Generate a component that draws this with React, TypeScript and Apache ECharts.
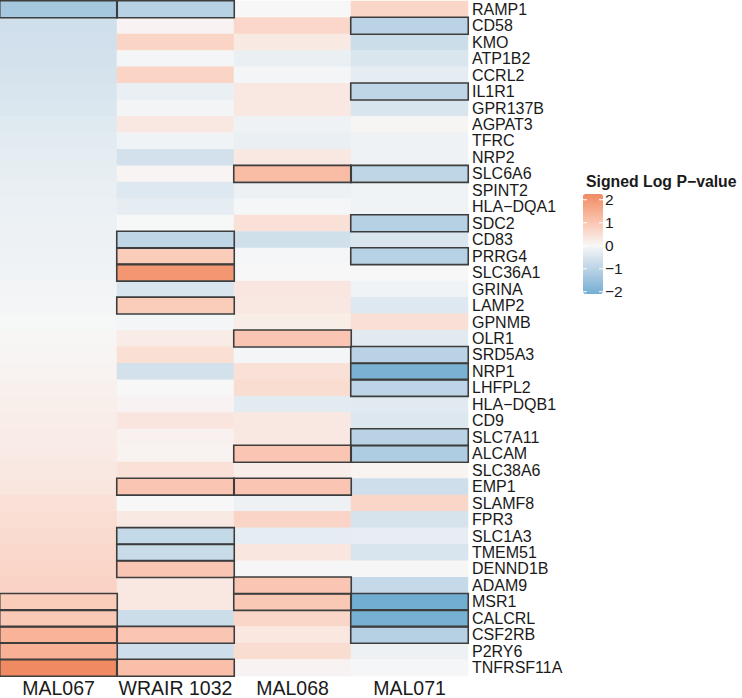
import React, { useEffect, useRef } from "react";
import * as echarts from "echarts";

const genes = [
  "RAMP1", "CD58", "KMO", "ATP1B2", "CCRL2", "IL1R1", "GPR137B", "AGPAT3", "TFRC", "NRP2",
  "SLC6A6", "SPINT2", "HLA\u2212DQA1", "SDC2", "CD83", "PRRG4", "SLC36A1", "GRINA", "LAMP2", "GPNMB",
  "OLR1", "SRD5A3", "NRP1", "LHFPL2", "HLA\u2212DQB1", "CD9", "SLC7A11", "ALCAM", "SLC38A6", "EMP1",
  "SLAMF8", "FPR3", "SLC1A3", "TMEM51", "DENND1B", "ADAM9", "MSR1", "CALCRL", "CSF2RB", "P2RY6",
  "TNFRSF11A",
];

const samples = ["MAL067", "WRAIR 1032", "MAL068", "MAL071"];

const mal067 = [
  -1.33, -0.67, -0.64, -0.6, -0.56, -0.52, -0.46, -0.4, -0.35, -0.3,
  -0.26, -0.23, -0.2, -0.18, -0.16, -0.14, -0.11, -0.08, -0.05, -0.02,
  0.03, 0.06, 0.1, 0.14, 0.17, 0.2, 0.23, 0.26, 0.3, 0.36,
  0.45, 0.52, 0.58, 0.63, 0.68, 0.74, 0.9, 0.95, 1.4, 1.45,
  2.25,
];
const wrair1032 = [
  -1.05, 0.08, 0.72, -0.05, 0.72, -0.22, -0.08, 0.3, -0.13, -0.6,
  0.06, -0.42, -0.28, -0.02, -0.95, 0.9, 2.0, -0.5, 0.9, -0.06,
  0.25, 0.5, -0.62, 0.0, 0.08, 0.38, 0.12, 0.1, 0.45, 1.0,
  -0.01, 0.28, -0.85, -0.78, 1.0, 0.3, 0.3, -0.72, 1.0, -0.68,
  1.15,
];
const mal068 = [
  0.0, 0.65, 0.28, -0.22, -0.05, 0.3, 0.3, -0.15, -0.22, 0.32,
  1.2, -0.17, -0.03, 0.45, -0.65, -0.03, 0.0, 0.34, 0.3, 0.22,
  1.0, -0.07, 0.45, 0.55, -0.33, 0.3, 0.3, 1.0, 0.2, 1.0,
  -0.17, 0.7, -0.3, 0.36, 0.01, 1.0, 0.95, 0.68, 0.33, 0.55,
  0.08,
];
const mal071 = [
  0.68, -1.0, -0.72, -0.48, -0.3, -0.95, -0.5, 0.04, -0.15, -0.15,
  -0.95, -0.13, -0.13, -1.08, -0.48, -1.05, 0.0, -0.13, -0.42, 0.48,
  -0.37, -1.03, -1.98, -0.97, -0.36, -0.45, -1.03, -1.18, 0.07, -0.68,
  0.68, -0.56, -0.27, -0.52, 0.01, -0.82, -2.1, -2.05, -1.08, -0.16,
  -0.03,
];

// significant cells (row indices per sample) -> outlined
const sigMal067 = [0, 36, 37, 38, 39, 40];
const sigWrair1032 = [0, 14, 15, 16, 18, 29, 32, 33, 34, 38, 40];
const sigMal068 = [10, 20, 27, 29, 35, 36];
const sigMal071 = [1, 5, 10, 13, 15, 21, 22, 23, 26, 27, 36, 37, 38];

const legendTicks = [2, 1, 0, -1, -2];
const scaleMin = -2.1;
const scaleMax = 2.25;

// ---- colour helpers (Lab interpolation, like ggplot gradient2) ----
function hexToRgb(h: string) {
  const n = parseInt(h.slice(1), 16);
  return [(n >> 16) & 255, (n >> 8) & 255, n & 255];
}
function toLin(c: number) {
  c /= 255;
  return c <= 0.04045 ? c / 12.92 : Math.pow((c + 0.055) / 1.055, 2.4);
}
function fromLin(c: number) {
  const v = c <= 0.0031308 ? 12.92 * c : 1.055 * Math.pow(c, 1 / 2.4) - 0.055;
  return Math.max(0, Math.min(255, Math.round(v * 255)));
}
const WX = 0.95047, WY = 1.0, WZ = 1.08883;
function f(t: number) {
  return t > 0.008856 ? Math.cbrt(t) : 7.787 * t + 16 / 116;
}
function fi(t: number) {
  return t > 0.206893 ? t * t * t : (t - 16 / 116) / 7.787;
}
function rgbToLab(rgb: number[]) {
  const [r, g, b] = rgb.map(toLin);
  const x = (0.4124 * r + 0.3576 * g + 0.1805 * b) / WX;
  const y = (0.2126 * r + 0.7152 * g + 0.0722 * b) / WY;
  const z = (0.0193 * r + 0.1192 * g + 0.9505 * b) / WZ;
  return [116 * f(y) - 16, 500 * (f(x) - f(y)), 200 * (f(y) - f(z))];
}
function labToHex(lab: number[]) {
  const fy = (lab[0] + 16) / 116;
  const fx = fy + lab[1] / 500;
  const fz = fy - lab[2] / 200;
  const x = fi(fx) * WX, y = fi(fy) * WY, z = fi(fz) * WZ;
  const r = 3.2406 * x - 1.5372 * y - 0.4986 * z;
  const g = -0.9689 * x + 1.8758 * y + 0.0415 * z;
  const b = 0.0557 * x - 0.204 * y + 1.057 * z;
  return "#" + [r, g, b].map((c) => fromLin(c).toString(16).padStart(2, "0")).join("");
}
const lowLab = rgbToLab(hexToRgb("#67a9cf"));
const midLab = rgbToLab(hexToRgb("#f7f7f7"));
const highLab = rgbToLab(hexToRgb("#ef8a62"));
const maxAbs = Math.max(Math.abs(scaleMin), Math.abs(scaleMax));
function colorFor(v: number) {
  const t = Math.min(1, Math.abs(v) / maxAbs);
  const end = v < 0 ? lowLab : highLab;
  return labToHex(midLab.map((m, i) => m + (end[i] - m) * t));
}

const FONT = "'Liberation Sans', Arial, Helvetica, sans-serif";

export default function App() {
  const ref = useRef<HTMLDivElement>(null);
  useEffect(() => {
    if (!ref.current) return;
    const chart = echarts.init(ref.current, undefined, { renderer: "svg" });

    const columns = [mal067, wrair1032, mal068, mal071];
    const sigs = [sigMal067, sigWrair1032, sigMal068, sigMal071];
    const cells: number[][] = [];
    columns.forEach((col, x) => col.forEach((v, y) => cells.push([x, y, v])));
    const sigCells: number[][] = [];
    sigs.forEach((rows, x) => rows.forEach((y) => sigCells.push([x, y, columns[x][y]])));

    const nStops = 80;
    const stops: string[] = [];
    for (let i = 0; i < nStops; i++) {
      stops.push(colorFor(scaleMin + ((scaleMax - scaleMin) * i) / (nStops - 1)));
    }

    const barLeft = 583, barTop = 194, barW = 20, barH = 100;
    const yOf = (v: number) => barTop + ((scaleMax - v) / (scaleMax - scaleMin)) * barH;
    const tickGraphics: any[] = [];
    legendTicks.forEach((v) => {
      const y = yOf(v);
      tickGraphics.push({
        type: "line", z: 100,
        shape: { x1: barLeft, y1: y, x2: barLeft + 4, y2: y },
        style: { stroke: "#ffffff", lineWidth: 1 },
      });
      tickGraphics.push({
        type: "line", z: 100,
        shape: { x1: barLeft + barW - 4, y1: y, x2: barLeft + barW, y2: y },
        style: { stroke: "#ffffff", lineWidth: 1 },
      });
      tickGraphics.push({
        type: "text", z: 100, x: barLeft + barW + 2, y,
        style: {
          text: v < 0 ? "\u2212" + Math.abs(v) : String(v),
          fontSize: 15.5, fontFamily: FONT, fill: "#1a1a1a",
          verticalAlign: "middle", align: "left",
        },
      });
    });

    chart.setOption({
      animation: false,
      backgroundColor: "#ffffff",
      grid: { left: 0, right: 274, top: 1, bottom: 20, containLabel: false },
      xAxis: {
        type: "category",
        data: samples,
        axisLine: { show: false },
        axisTick: { show: false },
        splitLine: { show: false },
        axisLabel: { fontSize: 19.5, fontFamily: FONT, color: "#1a1a1a", margin: 2, interval: 0 },
      },
      yAxis: {
        type: "category",
        data: genes,
        inverse: true,
        position: "right",
        axisLine: { show: false },
        axisTick: { show: false },
        splitLine: { show: false },
        axisLabel: { fontSize: 16, fontFamily: FONT, color: "#1a1a1a", margin: 4, interval: 0 },
      },
      visualMap: [
        {
          type: "continuous",
          seriesIndex: 0,
          min: scaleMin,
          max: scaleMax,
          calculable: false,
          orient: "vertical",
          left: barLeft,
          top: barTop,
          padding: 0,
          itemWidth: barW,
          itemHeight: barH,
          inRange: { color: stops },
          textStyle: { fontSize: 0 },
        },
        {
          type: "continuous",
          show: false,
          seriesIndex: 1,
          min: scaleMin,
          max: scaleMax,
          inRange: { color: ["rgba(0,0,0,0)", "rgba(0,0,0,0)"] },
        },
      ],
      graphic: [
        {
          type: "text", left: 586, top: 173,
          style: {
            text: "Signed Log P\u2212value",
            fontSize: 15.8, fontWeight: "bold", fontFamily: FONT, fill: "#1a1a1a",
          },
        },
        ...tickGraphics,
      ],
      series: [
        {
          type: "heatmap",
          data: cells,
          silent: true,
          itemStyle: { borderWidth: 0 },
        },
        {
          type: "heatmap",
          data: sigCells,
          silent: true,
          z: 5,
          itemStyle: { borderColor: "#3d3d3d", borderWidth: 1.6 },
        },
      ],
    });
    return () => chart.dispose();
  }, []);
  return (
    <div
      ref={ref}
      style={{ position: "absolute", left: 0, top: 0, width: 742, height: 698 }}
    />
  );
}
